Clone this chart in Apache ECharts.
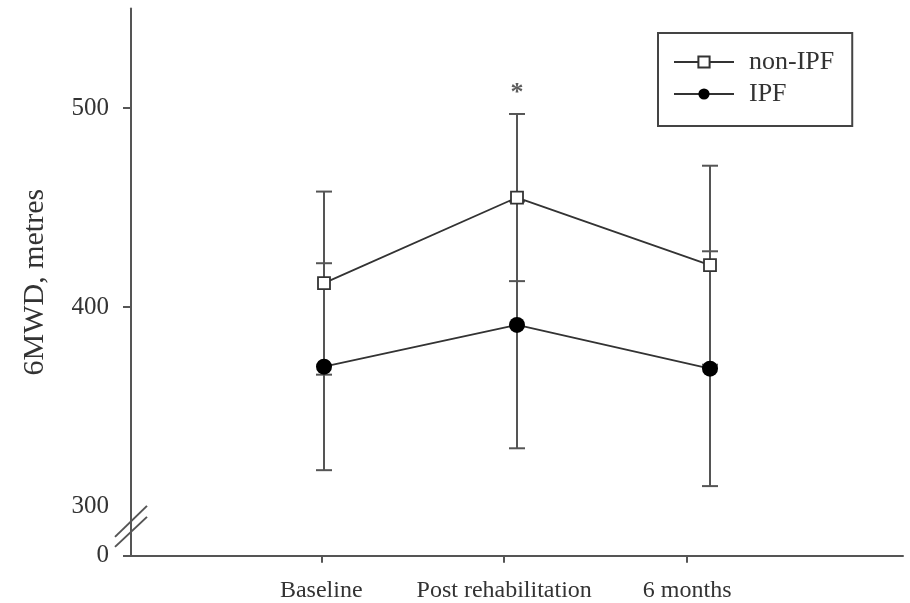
<!DOCTYPE html>
<html>
<head>
<meta charset="utf-8">
<script src="https://cdn.jsdelivr.net/npm/echarts@6/dist/echarts.min.js"></script>
<style>
html,body{margin:0;padding:0;background:#fff;}
#chart{width:910px;height:603px;}
</style>
</head>
<body>
<div id="chart"></div>
<script>
// ---- data ----
const categories = ['Baseline', 'Post rehabilitation', '6 months'];
const nonIPFMean = [412, 455, 421];
const nonIPFSD = [46, 42, 50];
const ipfMean = [370, 391, 369];
const ipfSD = [52, 62, 59];
const sigMarks = ['', '*', ''];
// y-axis: the bottom value stands for the broken "0"
const yTickValues = [275, 300, 400, 500];
const yTickLabels = ['0', '300', '400', '500'];
const yTickMarks = [275, 400, 500];

const FONT = 'Liberation Serif';
const TXT = '#333';
const AX = '#555';

const xs = categories.map((c, i) => i + 1);
const nonData = xs.map((x, i) => [x, nonIPFMean[i]]);
const ipfData = xs.map((x, i) => [x, ipfMean[i]]);
const errData = [];
xs.forEach((x, i) => {
  errData.push([x, nonIPFMean[i] - nonIPFSD[i], nonIPFMean[i] + nonIPFSD[i]]);
  errData.push([x, ipfMean[i] - ipfSD[i], ipfMean[i] + ipfSD[i]]);
});
const sigData = xs.map((x, i) => sigMarks[i] ? { value: [x, nonIPFMean[i] + nonIPFSD[i]], mark: sigMarks[i] } : null).filter(Boolean);

const chart = echarts.init(document.getElementById('chart'), null, { renderer: 'canvas' });
const option = {
  animation: false,
  backgroundColor: '#fff',
  textStyle: { fontFamily: FONT, color: TXT },
  grid: { left: 131, right: 7, top: 8.5, bottom: 47.25, containLabel: false },
  legend: {
    data: ['non-IPF', 'IPF'],
    orient: 'vertical',
    left: 658, top: 33,
    padding: [16, 18, 19, 15],
    borderColor: '#444', borderWidth: 2,
    itemWidth: 60, itemHeight: 14, itemGap: 6,
    textStyle: { fontFamily: FONT, fontSize: 26, color: TXT, padding: [0, 0, 0, 10], lineHeight: 26 }
  },
  xAxis: [
    {
      type: 'value', min: 0, max: 4, position: 'bottom',
      axisLine: { show: true, onZero: false, lineStyle: { color: AX, width: 2 } },
      axisTick: { show: false }, axisLabel: { show: false }, splitLine: { show: false }
    },
    {
      type: 'value', min: -0.04, max: 4.18, position: 'bottom',
      axisLine: { show: false },
      axisTick: { show: true, customValues: [1, 2, 3], length: 7, lineStyle: { color: AX, width: 2 } },
      axisLabel: {
        show: true, customValues: [1, 2, 3], margin: 23,
        fontFamily: FONT, fontSize: 24, color: TXT,
        formatter: v => categories[Math.round(v) - 1] || ''
      },
      splitLine: { show: false }
    }
  ],
  yAxis: {
    type: 'value', min: 275, max: 550,
    name: '6MWD, metres', nameLocation: 'middle', nameGap: 81, nameRotate: 90,
    nameTextStyle: { fontFamily: FONT, fontSize: 30, color: TXT },
    axisLine: { show: true, onZero: false, lineStyle: { color: AX, width: 2 } },
    axisTick: { show: true, customValues: yTickMarks, length: 8, lineStyle: { color: AX, width: 2 } },
    axisLabel: {
      customValues: yTickValues, margin: 22, fontFamily: FONT, fontSize: 25, color: TXT,
      formatter: v => yTickLabels[yTickValues.indexOf(v)]
    },
    splitLine: { show: false }
  },
  series: [
    {
      type: 'custom', name: 'err', xAxisIndex: 0, z: 1,
      renderItem: function (params, api) {
        const x = api.value(0);
        const lo = api.coord([x, api.value(1)]);
        const hi = api.coord([x, api.value(2)]);
        const w = 8;
        const st = { stroke: '#555', lineWidth: 2 };
        return {
          type: 'group', children: [
            { type: 'line', shape: { x1: hi[0], y1: hi[1], x2: lo[0], y2: lo[1] }, style: st },
            { type: 'line', shape: { x1: hi[0] - w, y1: hi[1], x2: hi[0] + w, y2: hi[1] }, style: st },
            { type: 'line', shape: { x1: lo[0] - w, y1: lo[1], x2: lo[0] + w, y2: lo[1] }, style: st }
          ]
        };
      },
      encode: { x: 0, y: [1, 2] },
      data: errData
    },
    {
      name: 'non-IPF', type: 'line', xAxisIndex: 0, z: 3,
      data: nonData,
      symbol: 'rect', symbolSize: 12,
      lineStyle: { color: '#333', width: 1.8 },
      itemStyle: { color: '#fff', borderColor: '#333', borderWidth: 1.8 }
    },
    {
      name: 'IPF', type: 'line', xAxisIndex: 0, z: 3,
      data: ipfData,
      symbol: 'circle', symbolSize: 16,
      lineStyle: { color: '#333', width: 1.8 },
      itemStyle: { color: '#000', borderColor: '#000', borderWidth: 0 }
    },
    {
      type: 'scatter', name: 'sig', xAxisIndex: 0, z: 4,
      symbolSize: 0,
      data: sigData,
      label: {
        show: true, position: 'top', distance: 8,
        fontFamily: FONT, fontSize: 26, fontWeight: 'bold', color: TXT,
        formatter: p => p.data.mark
      }
    }
  ]
};
chart.setOption(option);

// axis-break slashes on the y axis between 300 and the broken 0
const p300 = chart.convertToPixel({ yAxisIndex: 0 }, 300);
const p0 = chart.convertToPixel({ yAxisIndex: 0 }, 275);
const axX = chart.convertToPixel({ xAxisIndex: 0 }, 0);
const mid = (p300 + p0) / 2;
chart.setOption({
  graphic: [
    { type: 'line', shape: { x1: axX - 16, y1: mid + 6, x2: axX + 16, y2: mid - 25 }, style: { stroke: AX, lineWidth: 2 } },
    { type: 'line', shape: { x1: axX - 16, y1: mid + 16, x2: axX + 16, y2: mid - 14 }, style: { stroke: AX, lineWidth: 2 } }
  ]
});
</script>
</body>
</html>
